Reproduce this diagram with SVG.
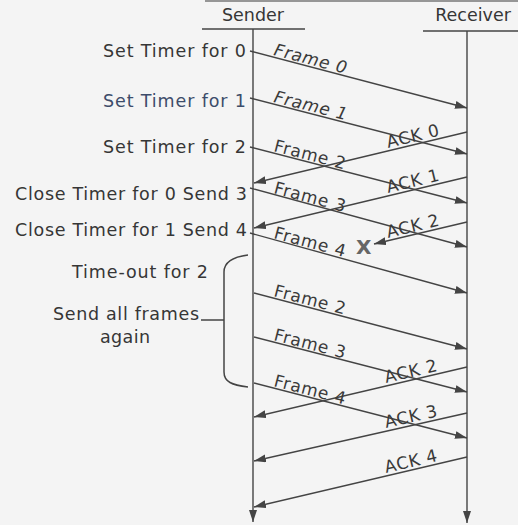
<svg xmlns="http://www.w3.org/2000/svg" width="518" height="525" viewBox="0 0 518 525">
<defs>
<marker id="ah" markerUnits="userSpaceOnUse" markerWidth="13" markerHeight="9" refX="12" refY="4" orient="auto">
<path d="M0,0 L12,4 L0,8 z" fill="#444"/>
</marker>
<style>
.t{font-family:"DejaVu Sans","Liberation Sans",sans-serif;font-size:17.5px;fill:#363636}
.b{fill:#3d4c6a}
.l{font-family:"DejaVu Sans","Liberation Sans",sans-serif;font-size:17px;fill:#3a3a3a;letter-spacing:0.7px}
.ln{stroke:#444;stroke-width:1.5;fill:none}
.ar{stroke:#444;stroke-width:1.4;fill:none;marker-end:url(#ah)}
</style>
</defs>
<rect width="518" height="525" fill="#f4f4f4"/>
<line x1="205" y1="1" x2="518" y2="1" stroke="#777" stroke-width="1.5"/>

<g id="sender">
<text class="t" x="253" y="21" text-anchor="middle">Sender</text>
<line class="ln" x1="202" y1="29" x2="305" y2="29"/>
<line class="ar" x1="253" y1="29" x2="253" y2="522"/>
</g>
<g id="receiver">
<text class="t" x="473" y="21" text-anchor="middle">Receiver</text>
<line class="ln" x1="423" y1="31" x2="518" y2="31"/>
<line class="ar" x1="467" y1="31" x2="467" y2="523"/>
</g>

<g id="events">
<text class="t" x="246" y="57" text-anchor="end" textLength="143">Set Timer for 0</text>
<text class="t b" x="246" y="107" text-anchor="end" textLength="143">Set Timer for 1</text>
<text class="t" x="246" y="153" text-anchor="end" textLength="143">Set Timer for 2</text>
<text class="t" x="247" y="200" text-anchor="end" textLength="232">Close Timer for 0 Send 3</text>
<text class="t" x="247" y="236" text-anchor="end" textLength="232">Close Timer for 1 Send 4</text>
<text class="t" x="72" y="278" textLength="136">Time-out for 2</text>
<text class="t" x="53" y="320" textLength="146">Send all frames</text>
<text class="t" x="100" y="343" textLength="50">again</text>
</g>

<g id="bracket">
<path class="ln" d="M248,255 C232,257 224,262 224,272 L224,372 C224,382 232,385 248,387"/>
<line class="ln" x1="201" y1="320" x2="224" y2="320"/>
</g>

<g id="connectors">
<line class="ar" x1="250" y1="51" x2="467" y2="108"/>
<line class="ar" x1="250" y1="98" x2="467" y2="154"/>
<line class="ar" x1="467" y1="132" x2="254" y2="183"/>
<line class="ar" x1="250" y1="147" x2="467" y2="203"/>
<line class="ar" x1="467" y1="177" x2="254" y2="228"/>
<line class="ar" x1="250" y1="188" x2="467" y2="247"/>
<line class="ar" x1="467" y1="222" x2="374" y2="244"/>
<line class="ar" x1="250" y1="233" x2="467" y2="293"/>
<line class="ar" x1="254" y1="293" x2="467" y2="349"/>
<line class="ar" x1="254" y1="337" x2="467" y2="392"/>
<line class="ar" x1="467" y1="367" x2="254" y2="417"/>
<line class="ar" x1="254" y1="383" x2="467" y2="438"/>
<line class="ar" x1="467" y1="413" x2="254" y2="461"/>
<line class="ar" x1="467" y1="457" x2="254" y2="507"/>
</g>

<g id="labels">
<text class="l" transform="translate(273,55) rotate(14.5)" font-style="italic">Frame 0</text>
<text class="l b" transform="translate(273,102) rotate(14)" font-style="italic">Frame 1</text>
<text class="l" transform="translate(273,151) rotate(14.5)">Frame 2</text>
<text class="l" transform="translate(273,193) rotate(15)">Frame 3</text>
<text class="l" transform="translate(273,238) rotate(15)">Frame 4</text>
<text class="l" transform="translate(273,296) rotate(14.5)">Frame 2</text>
<text class="l" transform="translate(273,340) rotate(14.5)">Frame 3</text>
<text class="l" transform="translate(273,386) rotate(14.5)">Frame 4</text>
<text class="l" transform="translate(388,148) rotate(-13.5)">ACK 0</text>
<text class="l" transform="translate(388,193) rotate(-13.5)">ACK 1</text>
<text class="l" transform="translate(388,238) rotate(-13.5)">ACK 2</text>
<text class="l" transform="translate(386,383) rotate(-13.2)">ACK 2</text>
<text class="l" transform="translate(386,428) rotate(-12.7)">ACK 3</text>
<text class="l" transform="translate(386,473) rotate(-13.2)">ACK 4</text>
<text x="356" y="254" font-family="DejaVu Sans, sans-serif" font-size="20" font-weight="bold" fill="#666">X</text>
</g>
</svg>
